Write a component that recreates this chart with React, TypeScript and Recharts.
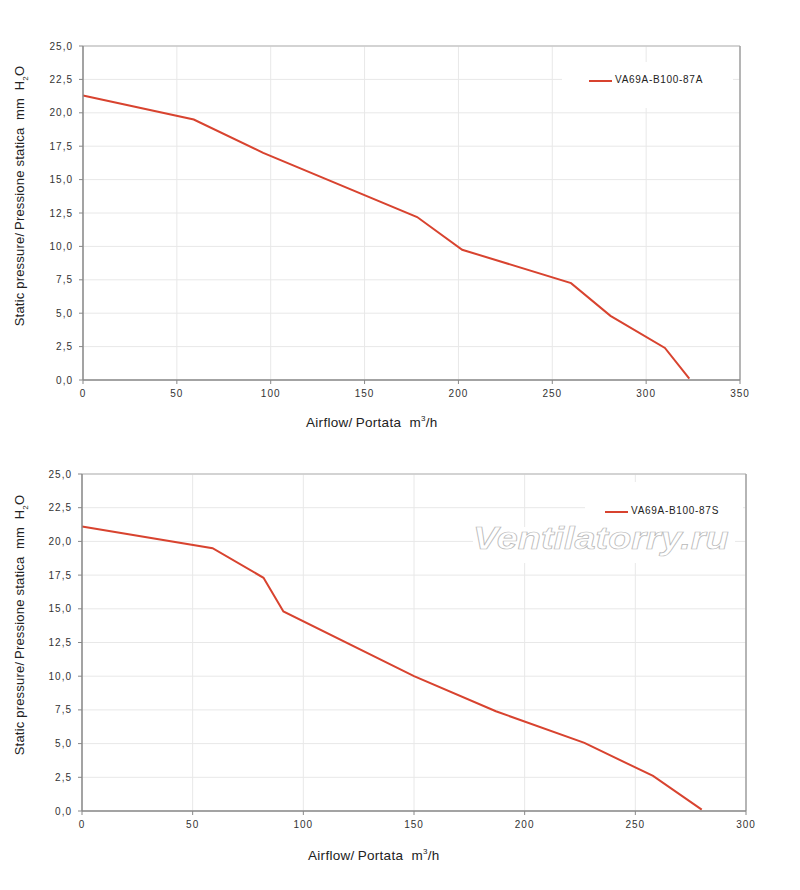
import React from "react";
import {
  CartesianGrid,
  Line,
  LineChart,
  ReferenceLine,
  XAxis,
  YAxis,
} from "recharts";

// Fan curves: static pressure (mm H2O) vs airflow (m3/h), two models.

const flowA = [0, 59, 96, 178, 202, 260, 281, 310, 323];
const pressureA = [21.3, 19.5, 17.0, 12.2, 9.75, 7.25, 4.8, 2.4, 0.1];

const flowS = [0, 59, 82, 91, 150, 187, 227, 258, 280];
const pressureS = [21.1, 19.5, 17.3, 14.8, 10.0, 7.4, 5.05, 2.6, 0.1];

const pressureTicks = [0, 2.5, 5, 7.5, 10, 12.5, 15, 17.5, 20, 22.5, 25];
const flowTicksA = [0, 50, 100, 150, 200, 250, 300, 350];
const flowTicksS = [0, 50, 100, 150, 200, 250, 300];

const nameA = "VA69A-B100-87A";
const nameS = "VA69A-B100-87S";

const RED = "#d8432f";
const FONT = "'Liberation Sans', Arial, sans-serif";

const toRows = (q: number[], p: number[]) =>
  q.map((v, i) => ({ q: v, p: p[i] }));

const comma = (v: number) => v.toFixed(1).replace(".", ",");

const tickStyle = {
  fontSize: 10,
  fill: "#333",
  letterSpacing: 1,
  fontFamily: FONT,
};

function FanChart({
  rows,
  xTicks,
  xMax,
  width,
  height,
  margin,
}: {
  rows: { q: number; p: number }[];
  xTicks: number[];
  xMax: number;
  width: number;
  height: number;
  margin: { top: number; right: number; bottom: number; left: number };
}) {
  return (
    <LineChart width={width} height={height} data={rows} margin={margin}>
      <CartesianGrid stroke="#e8e8e8" />
      <XAxis
        type="number"
        dataKey="q"
        domain={[0, xMax]}
        ticks={xTicks}
        height={30}
        tick={tickStyle}
        tickSize={4}
        tickMargin={6}
        tickLine={{ stroke: "#888" }}
        axisLine={{ stroke: "#888", strokeWidth: 1.5 }}
      />
      <YAxis
        type="number"
        domain={[0, 25]}
        ticks={pressureTicks}
        width={60}
        tick={tickStyle}
        tickFormatter={comma}
        tickSize={4}
        tickMargin={6}
        tickLine={{ stroke: "#888" }}
        axisLine={{ stroke: "#888", strokeWidth: 1.5 }}
      />
      <ReferenceLine y={25} stroke="#c8c8c8" strokeWidth={1.5} />
      <ReferenceLine x={xMax} stroke="#a0a0a0" strokeWidth={1.5} />
      <Line
        type="linear"
        dataKey="p"
        stroke={RED}
        strokeWidth={2}
        dot={false}
        isAnimationActive={false}
      />
    </LineChart>
  );
}

function YTitle({ cx, cy }: { cx: number; cy: number }) {
  return (
    <div
      style={{
        position: "absolute",
        left: cx,
        top: cy,
        transform: "translate(-50%, -50%) rotate(-90deg)",
        whiteSpace: "nowrap",
        fontSize: 13,
        letterSpacing: 0.2,
        color: "#222",
      }}
    >
      Static pressure/&thinsp;Pressione statica&nbsp; mm&nbsp; H<sub style={{ fontSize: 8 }}>2</sub>O
    </div>
  );
}

function XTitle({ left, top }: { left: number; top: number }) {
  return (
    <div
      style={{
        position: "absolute",
        left,
        top,
        whiteSpace: "nowrap",
        fontSize: 13.5,
        letterSpacing: 0.3,
        color: "#222",
      }}
    >
      Airflow/&thinsp;Portata&nbsp; m<sup style={{ fontSize: 8 }}>3</sup>/h
    </div>
  );
}

function LegendBox({
  left,
  top,
  w,
  lineX,
  lineY,
  label,
}: {
  left: number;
  top: number;
  w: number;
  lineX: number;
  lineY: number;
  label: string;
}) {
  return (
    <div
      style={{
        position: "absolute",
        left,
        top,
        width: w,
        height: 46,
        background: "#fff",
      }}
    >
      <div
        style={{
          position: "absolute",
          left: lineX - left,
          top: lineY - top - 1,
          width: 23,
          height: 2,
          background: RED,
        }}
      />
      <div
        style={{
          position: "absolute",
          left: lineX - left + 26,
          top: lineY - top - 7,
          fontSize: 10,
          letterSpacing: 0.7,
          color: "#222",
          whiteSpace: "nowrap",
        }}
      >
        {label}
      </div>
    </div>
  );
}

export default function App() {
  return (
    <div
      style={{
        position: "absolute",
        left: 0,
        top: 0,
        width: 800,
        height: 890,
        background: "#fff",
        fontFamily: FONT,
      }}
    >
      <div style={{ position: "absolute", left: 0, top: 0 }}>
        <FanChart
          rows={toRows(flowA, pressureA)}
          xTicks={flowTicksA}
          xMax={350}
          width={800}
          height={440}
          margin={{ top: 46, right: 60, bottom: 30, left: 23 }}
        />
      </div>
      <div style={{ position: "absolute", left: 0, top: 440 }}>
        <FanChart
          rows={toRows(flowS, pressureS)}
          xTicks={flowTicksS}
          xMax={300}
          width={800}
          height={450}
          margin={{ top: 34, right: 54, bottom: 49, left: 22 }}
        />
      </div>

      <LegendBox left={562} top={62} w={171} lineX={589} lineY={81} label={nameA} />
      <LegendBox left={585} top={482} w={158} lineX={605} lineY={512} label={nameS} />

      <div
        style={{
          position: "absolute",
          left: 473,
          top: 527,
          width: 262,
          height: 36,
          background: "#fff",
          overflow: "visible",
        }}
      >
        <div
          style={{
            position: "absolute",
            left: 0,
            top: -6,
            fontSize: 31,
            fontWeight: "bold",
            fontStyle: "italic",
            color: "#fff",
            WebkitTextStroke: "0.7px #b8b8b8",
            whiteSpace: "nowrap",
            transform: "scaleX(1.22)",
            transformOrigin: "left center",
          }}
        >
          Ventilatorry.ru
        </div>
      </div>

      <YTitle cx={21} cy={196} />
      <YTitle cx={21} cy={625} />
      <XTitle left={306} top={414} />
      <XTitle left={308} top={847} />
    </div>
  );
}
